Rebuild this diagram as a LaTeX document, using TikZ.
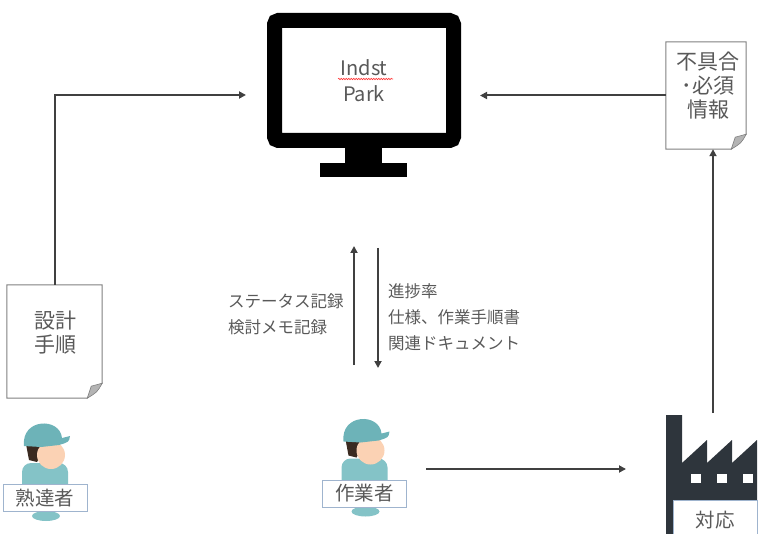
\documentclass[tikz,border=0pt]{standalone}
\usepackage{fontspec}
\setmainfont{Noto Sans CJK JP}
\usetikzlibrary{arrows.meta,decorations.pathmorphing}
\definecolor{ink}{HTML}{404040}
\definecolor{txt}{HTML}{595959}
\definecolor{paperline}{HTML}{808080}
\definecolor{foldgrey}{HTML}{B4B4B4}
\definecolor{hatblue}{HTML}{6DB3B8}
\definecolor{shirtblue}{HTML}{84C3C7}
\definecolor{skintone}{HTML}{FBD2B4}
\definecolor{hairbrown}{HTML}{3A2A20}
\definecolor{plantgrey}{HTML}{2E353C}
\definecolor{tagline}{HTML}{9FB4CE}
\tikzset{
  flow/.style={draw=ink, line width=2pt, -{Triangle[length=7pt, width=7pt]}},
  screen/.style={draw=black, fill=white, line width=15pt, rounded corners=4pt, minimum width=179pt,
                 minimum height=120pt, align=center, text=txt, font=\fontsize{20}{26}\selectfont},
  sheet/.style={inner sep=0pt},
  memo/.style={text=txt, align=center, font=\fontsize{21}{24}\selectfont},
  note/.style={text=txt, align=left, anchor=west, inner sep=0pt, font=\fontsize{16.5}{26}\selectfont},
  tag/.style={draw=tagline, fill=white, line width=1pt, minimum width=84pt, minimum height=27pt,
              inner sep=0pt, text=txt, font=\fontsize{19.5}{20}\selectfont},
}
\newcommand{\dogear}[1]{% sheet outline with a folded bottom right corner
  \draw[draw=paperline, line width=1pt, fill=white] (#1.north west) -- (#1.north east)
    -- ([yshift=15pt]#1.south east) -- ([xshift=-15pt]#1.south east) -- (#1.south west) -- cycle;
  \filldraw[fill=foldgrey, draw=paperline, line width=0.6pt] ([yshift=15pt]#1.south east)
    .. controls ([xshift=-5pt,yshift=6pt]#1.south east) .. ([xshift=-15pt]#1.south east)
    -- ([xshift=-11pt,yshift=12pt]#1.south east) -- cycle;
}
\newcommand{\worker}[3]{% name, centre of the name tag, tag text
  \begin{scope}[shift={(#2)}]
    \fill[shirtblue] (1,18) ellipse [x radius=14pt, y radius=5pt];
    \fill[shirtblue, rounded corners=9pt] (-23,0) rectangle (23,-35);
    \fill[hairbrown] (-19,-54) -- (-2,-57) -- (-3,-45) -- (-8,-36) -- (-16,-38) -- cycle;
    \fill[skintone] (6,-43) circle (14pt);
    \fill[hatblue] (-21,-52) .. controls (-24,-80) and (15,-81) .. (17,-60) -- (25,-62)
      .. controls (24,-56) .. (14,-53) -- (-4,-51) -- cycle;
    \node[tag] (#1) at (0,0) {#3};
  \end{scope}
}

\begin{document}
\begin{tikzpicture}[x=1pt, y=-1pt]
\useasboundingbox (0,0) rectangle (759,534);

% ---------------- monitor ----------------
\fill (345,147) rectangle (382,164);
\fill (320,163) rectangle (407,177);
\node[screen] (park) at (364,80.5) {Indst\\Park};
\draw[red!80, line width=0.6pt, decorate, decoration={snake, amplitude=0.7pt, segment length=2.5pt}]
  (338,79) -- (393,79);

% ---------------- documents ----------------
\node[sheet, minimum width=95pt, minimum height=113pt] (spec) at (54.5,341.5) {};
\dogear{spec}
\node[memo] (spectext) at (55,333) {設計\\手順};

\node[sheet, minimum width=80pt, minimum height=107pt] (fault) at (706,95.5) {};
\dogear{fault}
\node[memo] (faulttext) at (708,86) {不具合\\･必須\\情報};

% ---------------- people ----------------
\worker{expert}{45,498}{熟達者}
\worker{operator}{364.5,493.5}{作業者}

% ---------------- factory ----------------
\fill[plantgrey] (666,540) -- (666,415) -- (682,415) -- (682,463) -- (707,440) -- (707,463)
  -- (732,440) -- (732,463) -- (757,440) -- (757,540) -- cycle;
\foreach \wx in {691,717,743}
  \fill[white] (\wx,474) rectangle ++(10,9);
\node[tag, minimum height=40pt] (respond) at (715,520) {対応};

% ---------------- connectors ----------------
\coordinate (parkin) at (246,95);
\coordinate (parkback) at (480,95.5);
\coordinate (plantout) at (713,413);
\coordinate (upfoot) at (354,365);
\coordinate (uphead) at (354,246);
\coordinate (downtop) at (378,248);
\coordinate (downhead) at (378,368);
\coordinate (workerout) at (426,469);
\coordinate (plantin) at (626,469);
\draw[flow] (spec.north) |- (parkin);
\draw[flow] (fault.west) -- (parkback);
\draw[flow] (plantout) -- (plantout |- fault.south);
\draw[flow] (upfoot) -- (uphead);
\draw[flow] (downtop) -- (downhead);
\draw[flow] (workerout) -- (plantin);

% ---------------- notes ----------------
\node[note] (statusnote) at (228,314.5) {ステータス記録\\検討メモ記録};
\node[note] (infonote) at (388,317.5) {進捗率\\仕様、作業手順書\\関連ドキュメント};
\end{tikzpicture}
\end{document}
